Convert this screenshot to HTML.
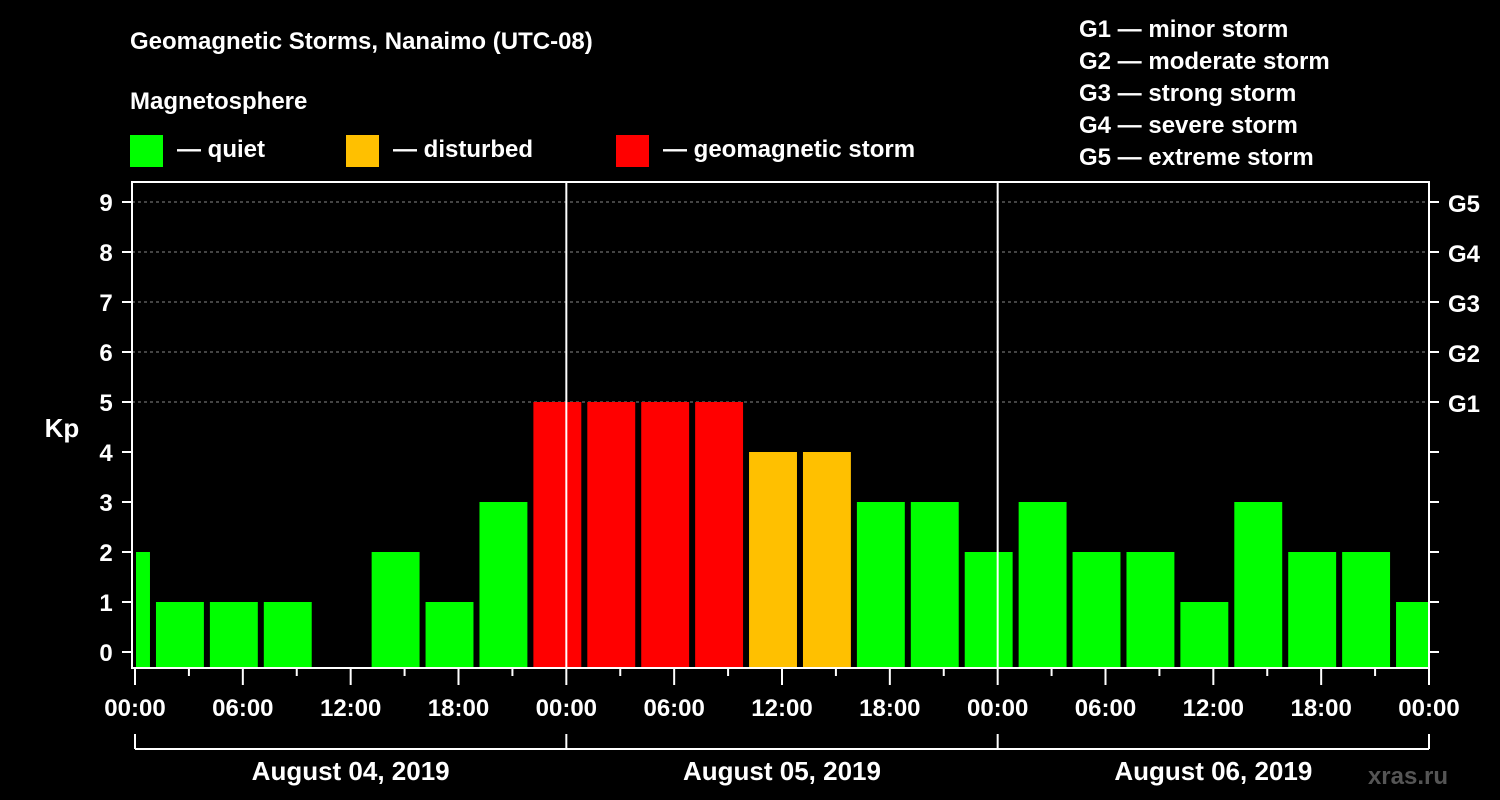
<!DOCTYPE html>
<html><head><meta charset="utf-8"><style>
body{margin:0;background:#000;width:1500px;height:800px;overflow:hidden}
svg{display:block;font-family:"Liberation Sans",sans-serif;font-weight:bold}
</style></head><body>
<svg id="chart" width="1500" height="800">
<text x="130" y="49" fill="#fff" font-size="24">Geomagnetic Storms, Nanaimo (UTC-08)</text>
<text x="130" y="109" fill="#fff" font-size="24">Magnetosphere</text>
<g><rect x="130" y="135" width="33" height="32" fill="#00ff00"/><text x="177" y="157" fill="#fff" font-size="24">— quiet</text></g>
<g><rect x="346" y="135" width="33" height="32" fill="#ffc000"/><text x="393" y="157" fill="#fff" font-size="24">— disturbed</text></g>
<g><rect x="616" y="135" width="33" height="32" fill="#ff0000"/><text x="663" y="157" fill="#fff" font-size="24">— geomagnetic storm</text></g>
<g fill="#fff" font-size="24">
<text x="1079" y="37">G1 — minor storm</text><text x="1079" y="69">G2 — moderate storm</text><text x="1079" y="101">G3 — strong storm</text><text x="1079" y="133">G4 — severe storm</text><text x="1079" y="165">G5 — extreme storm</text>
</g>
<text x="62" y="437" fill="#fff" font-size="26" text-anchor="middle">Kp</text>
<text x="1448" y="784" fill="#555" font-size="24" text-anchor="end">xras.ru</text>
<g id="plot"></g>
</svg>
<script>
const kpValues=[2,1,1,1,0,2,1,3,5,5,5,5,4,4,3,3,2,3,2,2,1,3,2,2,1];
const dayLabels=["August 04, 2019","August 05, 2019","August 06, 2019"];
const hourLabels=["00:00","06:00","12:00","18:00"];
const gLabels=["G1","G2","G3","G4","G5"];
const X0=135,X1=1429,TOP=182,BOT=668;
const x=h=>X0+(X1-X0)*h/72;
const y=v=>652-50*v;
const NS="http://www.w3.org/2000/svg";
const g=document.getElementById('plot');
function el(t,a,p){const e=document.createElementNS(NS,t);for(const k in a)e.setAttribute(k,a[k]);(p||g).appendChild(e);return e;}
// grid
for(let v=5;v<=9;v++){const l=el('line',{x1:132,x2:X1,y1:y(v),y2:y(v),stroke:'#888','stroke-dasharray':'3,3'});

}
// bars: first block starts at -2h (22:00 local)
kpValues.forEach((v,i)=>{
 if(v<=0)return;
 let h0=-2+3*i,h1=h0+3;
 let a=x(Math.max(h0,0)),b=x(Math.min(h1,72));
 a=h0<0?a+1:a+3;b=h1>72?b-1:b-3;
 const c=v>=5?'#ff0000':v>=4?'#ffc000':'#00ff00';
 const r=el('rect',{x:a,y:y(v),width:b-a,height:BOT-y(v),fill:c});
 
 
});
// day separators
[24,48].forEach(h=>{const l=el('line',{x1:x(h),x2:x(h),y1:TOP,y2:BOT,stroke:'#fff','stroke-width':2});

});
// frame
const f=el('rect',{x:132,y:TOP,width:X1-132,height:BOT-TOP,fill:'none',stroke:'#fff','stroke-width':2});


// y ticks
for(let v=0;v<=9;v++){
 el('line',{x1:122,x2:132,y1:y(v),y2:y(v),stroke:'#fff','stroke-width':2});
 el('line',{x1:X1,x2:X1+10,y1:y(v),y2:y(v),stroke:'#fff','stroke-width':2});
 const t=el('text',{x:106,y:y(v)+9,fill:'#fff','font-size':24,'text-anchor':'middle'});t.textContent=v;
 
 
}
gLabels.forEach((s,i)=>{const t=el('text',{x:1448,y:y(5+i)+10,fill:'#fff','font-size':24});t.textContent=s;

});
// x ticks
for(let h=0;h<=72;h+=3){
 const major=h%6===0;
 el('line',{x1:x(h),x2:x(h),y1:BOT,y2:BOT+(major?17:8),stroke:'#fff','stroke-width':2});
 if(major){const t=el('text',{x:x(h),y:716,fill:'#fff','font-size':24,'text-anchor':'middle'});t.textContent=hourLabels[(h/6)%4];
 
 }
}
// day brackets
el('line',{x1:x(0),x2:x(72),y1:749,y2:749,stroke:'#fff','stroke-width':2});
[0,24,48,72].forEach(h=>el('line',{x1:x(h),x2:x(h),y1:734,y2:749,stroke:'#fff','stroke-width':2}));
dayLabels.forEach((s,i)=>{const t=el('text',{x:x(24*i+12),y:780,fill:'#fff','font-size':26,'text-anchor':'middle'});t.textContent=s;

});
</script>
</body></html>
